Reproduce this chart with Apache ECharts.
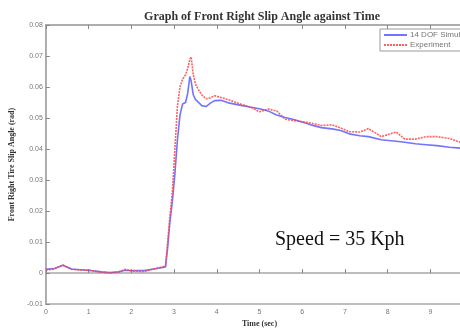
<!DOCTYPE html>
<html>
<head>
<meta charset="utf-8">
<script src="https://cdn.jsdelivr.net/npm/echarts@6/dist/echarts.min.js"></script>
<style>
  html, body { margin: 0; padding: 0; background: #fff; overflow: hidden; }
  #chart { width: 480px; height: 333px; }
</style>
</head>
<body>
<div id="chart"></div>
<script>
  // time (sec)
  var times = [0, 0.2, 0.4, 0.6, 0.8, 1.0, 1.3, 1.5, 1.7, 1.85, 2.0, 2.3, 2.6, 2.8,
    2.85, 2.9, 2.96, 3.02, 3.08, 3.14, 3.2, 3.27, 3.32, 3.37, 3.4, 3.45, 3.5, 3.56,
    3.65, 3.75, 3.85, 3.95, 4.1, 4.3, 4.6, 4.8, 5.0, 5.2, 5.4, 5.6, 5.8, 6.0, 6.2,
    6.45, 6.7, 6.9, 7.1, 7.35, 7.55, 7.85, 8.2, 8.4, 8.65, 8.9, 9.15, 9.45, 9.7, 10];
  // 14 DOF simulation (rad)
  var simulation = [0.0012, 0.0015, 0.0025, 0.0013, 0.0011, 0.0009, 0.0004, 0.0002, 0.0004, 0.0009, 0.0008, 0.0008, 0.0015, 0.0020,
    0.008, 0.016, 0.023, 0.032, 0.043, 0.051, 0.0545, 0.055, 0.058, 0.0634, 0.062, 0.0575, 0.0560, 0.0552,
    0.0540, 0.0537, 0.0548, 0.0556, 0.0557, 0.0548, 0.0540, 0.0535, 0.0530, 0.0523, 0.0510, 0.0502, 0.0495, 0.0487, 0.0478,
    0.0469, 0.0465, 0.0460, 0.0449, 0.0443, 0.0440, 0.0430, 0.0425, 0.0422, 0.0417, 0.0414, 0.0411, 0.0406, 0.0403, 0.0400];
  // Experiment (rad)
  var experiment = [0.0010, 0.0013, 0.0026, 0.0012, 0.0010, 0.0009, 0.0003, 0.0000, 0.0003, 0.0012, 0.0007, 0.0005, 0.0016, 0.0022,
    0.010, 0.018, 0.026, 0.040, 0.054, 0.060, 0.0625, 0.064, 0.066, 0.0690, 0.0697, 0.064, 0.061, 0.0594,
    0.0575, 0.0562, 0.0565, 0.0572, 0.0566, 0.0558, 0.0543, 0.0535, 0.0520, 0.0529, 0.0523, 0.0496, 0.0492, 0.0488, 0.0484,
    0.0476, 0.0478, 0.0468, 0.0456, 0.0455, 0.0466, 0.0440, 0.0455, 0.0432, 0.0432, 0.0440, 0.0440, 0.0434, 0.0422, 0.0418];

  function pairs(ys) {
    return times.map(function(t, i) { return [t, ys[i]]; });
  }

  var axisGrey = '#a8a8a8';
  var labelStyle = { color: '#777', fontSize: 7, fontFamily: 'Liberation Sans' };

  // canvas is wider than the window so the right end of the axes falls off-screen, like the cropped original
  var chart = echarts.init(document.getElementById('chart'));
  var option = {
    animation: false,
    backgroundColor: '#fff',
    title: {
      text: 'Graph of Front Right Slip Angle against Time',
      left: 257,
      textAlign: 'center',
      top: 6,
      textStyle: { fontFamily: 'Liberation Serif', fontWeight: 'bold', fontSize: 12, color: '#333' }
    },
    legend: {
      orient: 'vertical',
      left: 380,
      top: 29,
      padding: [2, 40, 2, 3],
      itemGap: 2,
      itemWidth: 23,
      itemHeight: 8,
      borderColor: '#999',
      borderWidth: 1,
      backgroundColor: '#fff',
      itemStyle: { opacity: 0 },
      textStyle: { color: '#777', fontSize: 8, fontFamily: 'Liberation Sans', padding: [0, 0, 0, -2] },
      data: ['14 DOF Simulation', 'Experiment']
    },
    grid: { left: 43, top: 25, right: 6, bottom: 21, show: true, borderColor: axisGrey, borderWidth: 1.5 },
    xAxis: [{
      type: 'value',
      min: 0, max: 10, interval: 1,
      name: 'Time (sec)',
      nameLocation: 'middle',
      nameGap: 14,
      nameTextStyle: { fontFamily: 'Liberation Serif', fontWeight: 'bold', fontSize: 8, color: '#333' },
      axisLine: { lineStyle: { color: axisGrey, width: 1.5 } },
      axisTick: { inside: true, length: 4, lineStyle: { color: '#888' } },
      axisLabel: Object.assign({ margin: 4 }, labelStyle),
      splitLine: { show: false }
    }, {
      type: 'value',
      position: 'top',
      min: 0, max: 10, interval: 1,
      axisLine: { lineStyle: { color: axisGrey, width: 1.5 } },
      axisTick: { inside: true, length: 4, lineStyle: { color: '#888' } },
      axisLabel: { show: false },
      splitLine: { show: false }
    }],
    yAxis: {
      type: 'value',
      min: -0.01, max: 0.08, interval: 0.01,
      name: 'Front Right Tire Slip Angle (rad)',
      nameLocation: 'middle',
      nameGap: 25,
      nameTextStyle: { fontFamily: 'Liberation Serif', fontWeight: 'bold', fontSize: 8, color: '#333' },
      axisLine: { lineStyle: { color: axisGrey, width: 1.5 } },
      axisTick: { inside: true, length: 4, lineStyle: { color: '#888' } },
      axisLabel: Object.assign({
        margin: 3,
        formatter: function(v) {
          var r = Math.round(v * 100) / 100;
          return r === 0 ? '0' : r.toFixed(2);
        }
      }, labelStyle),
      splitLine: { show: false }
    },
    series: [{
      name: '14 DOF Simulation',
      type: 'line',
      symbol: 'none',
      data: pairs(simulation),
      lineStyle: { color: 'rgba(90,90,255,0.85)', width: 1.6 },
      itemStyle: { color: 'rgba(90,90,255,0.85)' }
    }, {
      name: 'Experiment',
      type: 'line',
      symbol: 'none',
      data: pairs(experiment),
      lineStyle: { color: 'rgba(255,70,70,0.85)', width: 1.6, type: [2, 1] },
      itemStyle: { color: 'rgba(255,70,70,0.85)' }
    }],
    graphic: [{
      type: 'text',
      left: 275,
      top: 230,
      style: { text: 'Speed = 35 Kph', fontFamily: 'Liberation Serif', fontSize: 20, fill: '#111' }
    }]
  };
  chart.setOption(option);
</script>
</body>
</html>
